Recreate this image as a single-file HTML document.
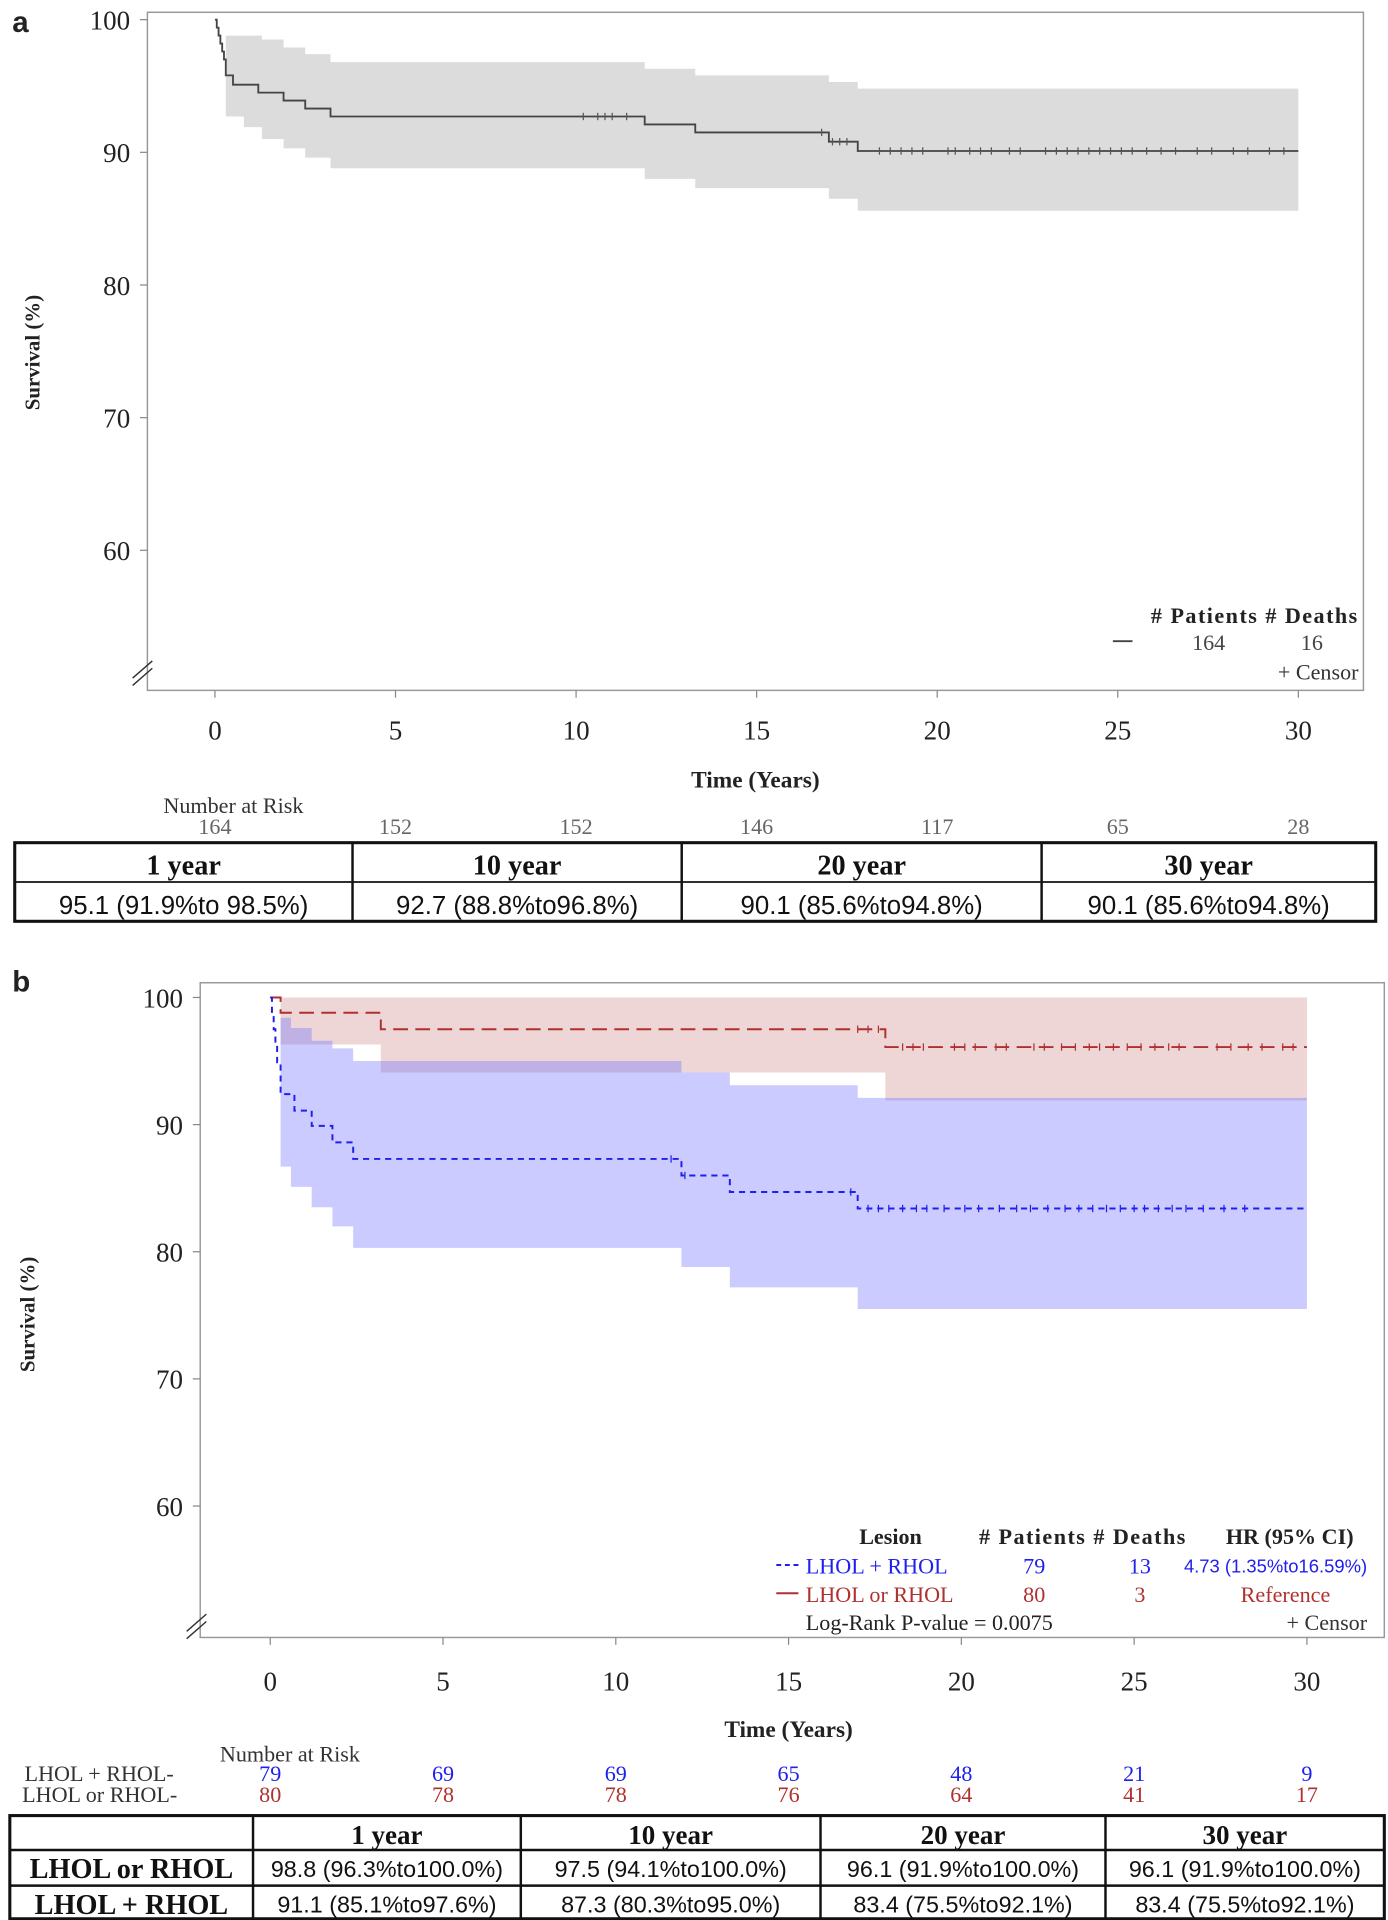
<!DOCTYPE html>
<html><head><meta charset="utf-8"><style>
html,body{margin:0;padding:0;background:#fff;}
svg{display:block;}
.serif{font-family:"Liberation Serif",serif;}
.sans{font-family:"Liberation Sans",sans-serif;}
</style></head><body>
<svg id="fig" width="1388" height="1920" viewBox="0 0 1130 1563" preserveAspectRatio="none" xmlns="http://www.w3.org/2000/svg">
<rect x="0" y="0" width="1130" height="1563" fill="#fff"/>
<g id="pa"></g>
<g id="pb"></g>
</svg>
<script>
// ---------- Panel A data ----------
const aTimes = [0, 0.05, 0.1, 0.15, 0.2, 0.25, 0.3, 0.5, 1.2, 1.9, 2.5, 3.2, 11.9, 13.3, 17.0, 17.8];
const aSurv = [100, 99.4, 98.8, 98.2, 97.6, 97.0, 95.8, 95.1, 94.5, 93.9, 93.3, 92.7, 92.1, 91.5, 90.8, 90.1];
const aCiTimes = [0, 0.3, 0.8, 1.3, 1.9, 2.5, 3.2, 11.9, 13.3, 17.0, 17.8];
const aUpper = [100, 98.8, 98.8, 98.5, 97.9, 97.4, 96.8, 96.3, 95.8, 95.3, 94.8];
const aLower = [100, 92.7, 91.9, 91.0, 90.3, 89.6, 88.8, 88.0, 87.3, 86.5, 85.6];
const aCensor = [10.2,10.6,10.8,11.0,11.4,16.8,17.1,17.3,17.5,18.4,18.7,19.0,19.3,19.6,20.3,20.5,20.9,21.2,21.5,22.0,22.3,23.0,23.3,23.6,23.9,24.2,24.5,24.8,25.1,25.4,25.8,26.2,26.6,27.2,27.6,28.2,28.6,29.2,29.6];
const aRisk = [164,152,152,146,117,65,28];
const xTicks = [0,5,10,15,20,25,30];
const yTicks = [100,90,80,70,60];
const aTableHead = ["1 year","10 year","20 year","30 year"];
const aTableVals = ["95.1 (91.9%to 98.5%)","92.7 (88.8%to96.8%)","90.1 (85.6%to94.8%)","90.1 (85.6%to94.8%)"];

// ---------- Panel B data ----------
const bBlueTimes = [0, 0.05, 0.1, 0.15, 0.2, 0.3, 0.7, 1.2, 1.8, 2.4, 11.9, 13.3, 17.0];
const bBlueSurv = [100, 98.7, 97.5, 96.2, 94.9, 92.4, 91.1, 89.9, 88.6, 87.3, 86.0, 84.7, 83.4];
const bBlueCiTimes = [0, 0.3, 0.6, 1.2, 1.8, 2.4, 3.2, 11.9, 13.3, 17.0];
const bBlueUpper = [100, 98.4, 97.6, 96.6, 96.0, 95.0, 95.0, 94.1, 93.1, 92.1];
const bBlueLower = [100, 86.7, 85.1, 83.5, 82.0, 80.3, 80.3, 78.8, 77.2, 75.5];
const bRedTimes = [0, 0.3, 3.2, 17.8];
const bRedSurv = [100, 98.8, 97.5, 96.1];
const bRedUpper = [100, 100, 100, 100];
const bRedLower = [100, 96.3, 94.1, 91.9];
const bBlueCensor = [11.6,12.0,16.8,17.3,17.6,17.9,18.3,18.7,19.0,19.5,20.1,20.5,21.1,21.6,22.0,22.5,23.0,23.4,23.8,24.2,24.6,25.0,25.3,25.7,26.1,26.5,27.0,27.6,28.2];
const bRedCensor = [17.0,17.3,17.6,18.3,18.6,18.9,19.8,20.1,20.4,21.0,21.3,22.1,22.4,22.9,23.3,23.7,24.0,24.4,24.8,25.2,25.6,26.0,26.3,27.4,27.8,28.3,28.7,29.3,29.6];
const bRiskBlue = [79,69,69,65,48,21,9];
const bRiskRed = [80,78,78,76,64,41,17];
const bTableHead = ["","1 year","10 year","20 year","30 year"];
const bRowRed = ["LHOL or RHOL","98.8 (96.3%to100.0%)","97.5 (94.1%to100.0%)","96.1 (91.9%to100.0%)","96.1 (91.9%to100.0%)"];
const bRowBlue = ["LHOL + RHOL","91.1 (85.1%to97.6%)","87.3 (80.3%to95.0%)","83.4 (75.5%to92.1%)","83.4 (75.5%to92.1%)"];

const NS = "http://www.w3.org/2000/svg";
function mk(parent, tag, attrs, txt){
  const e = document.createElementNS(NS, tag);
  for (const k in attrs) e.setAttribute(k, attrs[k]);
  if (txt !== undefined) e.textContent = txt;
  parent.appendChild(e);
  return e;
}
function stepD(ts, vs, end, X, Y){
  let d = "M" + X(ts[0]) + "," + Y(vs[0]);
  for (let i = 1; i < ts.length; i++){
    d += " H" + X(ts[i]) + " V" + Y(vs[i]);
  }
  d += " H" + X(end);
  return d;
}
function bandD(ts, up, lo, end, X, Y){
  let d = "M" + X(ts[1]) + "," + Y(up[1]);
  for (let i = 2; i < ts.length; i++) d += " H" + X(ts[i]) + " V" + Y(up[i]);
  d += " H" + X(end) + " V" + Y(lo[lo.length-1]);
  for (let i = ts.length-1; i >= 2; i--) d += " H" + X(ts[i]) + " V" + Y(lo[i-1]);
  d += " H" + X(ts[1]) + " Z";
  return d;
}
function survAt(ts, vs, t){ let v = vs[0]; for (let i=0;i<ts.length;i++) if (ts[i] <= t) v = vs[i]; return v; }

// ================= PANEL A =================
(function(){
  const g = document.getElementById("pa");
  const L=120,R=1110,T=10,B=562;
  const X = t => 175 + t*(1057-175)/30;
  const Y = v => 16 + (100-v)*10.8;
  let e;
  e = mk(g,"text",{x:10,y:26,class:"sans","font-size":24,"font-weight":"bold",fill:"#222"},"a");
   
  e = mk(g,"rect",{x:L,y:T,width:R-L,height:B-T,fill:"none",stroke:"#999","stroke-width":1.2});
   
  e = mk(g,"path",{d:bandD(aCiTimes,aUpper,aLower,30,X,Y),fill:"#dcdcdc"});
   
  e = mk(g,"path",{d:stepD(aTimes,aSurv,30,X,Y),fill:"none",stroke:"#444","stroke-width":1.5});
   
  aCensor.forEach(t=>{
    const c = mk(g,"line",{x1:X(t),x2:X(t),y1:Y(survAt(aTimes,aSurv,t))-3,y2:Y(survAt(aTimes,aSurv,t))+3,stroke:"#555","stroke-width":1});
     
  });
  yTicks.forEach(v=>{
    mk(g,"line",{x1:L-6,x2:L,y1:Y(v),y2:Y(v),stroke:"#888"});
    const t = mk(g,"text",{x:L-14,y:Y(v)+8,"text-anchor":"end",class:"serif","font-size":22,fill:"#222"},v);
     
  });
  xTicks.forEach(v=>{
    mk(g,"line",{x1:X(v),x2:X(v),y1:B,y2:B+6,stroke:"#888"});
    const t = mk(g,"text",{x:X(v),y:602,"text-anchor":"middle",class:"serif","font-size":22,fill:"#222"},v);
     
  });
  mk(g,"path",{d:"M108,552 L124,538 M108,558 L124,544",stroke:"#333","stroke-width":1.2,fill:"none"});
  e = mk(g,"text",{x:0,y:0,transform:"translate(32,287) rotate(-90)","text-anchor":"middle",class:"serif","font-size":17,"font-weight":"bold",fill:"#222"},"Survival (%)");
   
  e = mk(g,"text",{x:615,y:641,"text-anchor":"middle",class:"serif","font-size":19,"font-weight":"bold",fill:"#222"},"Time (Years)");
   
  mk(g,"text",{x:1105,y:507,"text-anchor":"end",class:"serif","font-size":18,"font-weight":"bold",fill:"#222",textLength:168},"# Patients # Deaths");
  mk(g,"line",{x1:906,x2:922,y1:522,y2:522,stroke:"#444","stroke-width":1.5});
  mk(g,"text",{x:984,y:529,"text-anchor":"middle",class:"serif","font-size":18,fill:"#444"},"164");
  mk(g,"text",{x:1068,y:529,"text-anchor":"middle",class:"serif","font-size":18,fill:"#444"},"16");
  e = mk(g,"text",{x:1106,y:553,"text-anchor":"end",class:"serif","font-size":18,fill:"#333"},"+ Censor");
   
  mk(g,"text",{x:190,y:662,"text-anchor":"middle",class:"serif","font-size":18,fill:"#333"},"Number at Risk");
  aRisk.forEach((n,i)=>{
    const t = mk(g,"text",{x:X(xTicks[i]),y:679,"text-anchor":"middle",class:"serif","font-size":18,fill:"#666"},n);
     
  });
  const cols=[12,287,555,848,1120], tT=686, tM=718, tB=750;
  const tb = mk(g,"g",{});
   
  mk(tb,"rect",{x:12,y:tT,width:1108,height:tB-tT,fill:"none",stroke:"#111","stroke-width":2.5});
  mk(tb,"line",{x1:12,x2:1120,y1:tM,y2:tM,stroke:"#111","stroke-width":1.5});
  cols.slice(1,4).forEach(c=>mk(tb,"line",{x1:c,x2:c,y1:tT,y2:tB,stroke:"#111","stroke-width":2}));
  aTableHead.forEach((h,i)=>{
    mk(tb,"text",{x:(cols[i]+cols[i+1])/2,y:tT+26,"text-anchor":"middle",class:"serif","font-size":23,"font-weight":"bold",fill:"#111"},h);
    mk(tb,"text",{x:(cols[i]+cols[i+1])/2,y:tM+26,"text-anchor":"middle",class:"sans","font-size":21,fill:"#111"},aTableVals[i]);
  });
})();

// ================= PANEL B =================
(function(){
  const g = document.getElementById("pb");
  const L=163,R=1127,T=800,B=1333;
  const X = t => 220 + t*(1064-220)/30;
  const Y = v => 812 + (100-v)*10.35;
  let e;
  e = mk(g,"text",{x:10,y:807,class:"sans","font-size":24,"font-weight":"bold",fill:"#222"},"b");
   
  e = mk(g,"rect",{x:L,y:T,width:R-L,height:B-T,fill:"none",stroke:"#999","stroke-width":1.2});
   
  e = mk(g,"path",{d:bandD(bRedTimes,bRedUpper,bRedLower,30,X,Y),fill:"rgba(200,120,120,0.3)"});
   
  e = mk(g,"path",{d:bandD(bBlueCiTimes,bBlueUpper,bBlueLower,30,X,Y),fill:"rgba(110,110,255,0.36)"});
   
  e = mk(g,"path",{d:stepD(bRedTimes,bRedSurv,30,X,Y),fill:"none",stroke:"#b03030","stroke-width":1.6,"stroke-dasharray":"12,6"});
   
  e = mk(g,"path",{d:stepD(bBlueTimes,bBlueSurv,30,X,Y),fill:"none",stroke:"#2020ee","stroke-width":1.6,"stroke-dasharray":"5,4"});
   
  bRedCensor.forEach(t=>{
    const y=Y(survAt(bRedTimes,bRedSurv,t));
    const c = mk(g,"line",{x1:X(t),x2:X(t),y1:y-3,y2:y+3,stroke:"#b03030","stroke-width":1});
     
  });
  bBlueCensor.forEach(t=>{
    const y=Y(survAt(bBlueTimes,bBlueSurv,t));
    const c = mk(g,"line",{x1:X(t),x2:X(t),y1:y-3,y2:y+3,stroke:"#2020ee","stroke-width":1});
     
  });
  yTicks.forEach(v=>{
    mk(g,"line",{x1:L-6,x2:L,y1:Y(v),y2:Y(v),stroke:"#888"});
    const t = mk(g,"text",{x:L-14,y:Y(v)+8,"text-anchor":"end",class:"serif","font-size":22,fill:"#222"},v);
     
  });
  xTicks.forEach(v=>{
    mk(g,"line",{x1:X(v),x2:X(v),y1:B,y2:B+6,stroke:"#888"});
    const t = mk(g,"text",{x:X(v),y:1376,"text-anchor":"middle",class:"serif","font-size":22,fill:"#222"},v);
     
  });
  mk(g,"path",{d:"M152,1328 L168,1314 M152,1334 L168,1320",stroke:"#333","stroke-width":1.2,fill:"none"});
  e = mk(g,"text",{x:0,y:0,transform:"translate(28,1070) rotate(-90)","text-anchor":"middle",class:"serif","font-size":17,"font-weight":"bold",fill:"#222"},"Survival (%)");
   
  e = mk(g,"text",{x:642,y:1414,"text-anchor":"middle",class:"serif","font-size":19,"font-weight":"bold",fill:"#222"},"Time (Years)");
   
  const lg = mk(g,"g",{});
   
  const f = {class:"serif","font-size":18};
  mk(lg,"text",Object.assign({x:725,y:1257,"text-anchor":"middle","font-weight":"bold",fill:"#222"},f),"Lesion");
  mk(lg,"text",Object.assign({x:881,y:1257,"text-anchor":"middle","font-weight":"bold",fill:"#222",textLength:168},f),"# Patients # Deaths");
  mk(lg,"text",Object.assign({x:1102,y:1257,"text-anchor":"end","font-weight":"bold",fill:"#222"},f),"HR (95% CI)");
  mk(lg,"line",{x1:632,x2:650,y1:1274,y2:1274,stroke:"#2020ee","stroke-width":1.6,"stroke-dasharray":"4,3"});
  mk(lg,"text",Object.assign({x:656,y:1281,fill:"#2020ee"},f),"LHOL + RHOL");
  mk(lg,"text",Object.assign({x:842,y:1281,"text-anchor":"middle",fill:"#2020ee"},f),"79");
  mk(lg,"text",Object.assign({x:928,y:1281,"text-anchor":"middle",fill:"#2020ee"},f),"13");
  mk(lg,"text",{x:1113,y:1280,"text-anchor":"end",class:"sans","font-size":15,fill:"#2020ee"},"4.73 (1.35%to16.59%)");
  mk(lg,"line",{x1:632,x2:650,y1:1297,y2:1297,stroke:"#b03030","stroke-width":1.6});
  mk(lg,"text",Object.assign({x:656,y:1304,fill:"#b03030"},f),"LHOL or RHOL");
  mk(lg,"text",Object.assign({x:842,y:1304,"text-anchor":"middle",fill:"#b03030"},f),"80");
  mk(lg,"text",Object.assign({x:928,y:1304,"text-anchor":"middle",fill:"#b03030"},f),"3");
  mk(lg,"text",Object.assign({x:1083,y:1304,"text-anchor":"end",fill:"#b03030"},f),"Reference");
  mk(lg,"text",Object.assign({x:656,y:1327,fill:"#222"},f),"Log-Rank P-value = 0.0075");
  mk(lg,"text",Object.assign({x:1113,y:1327,"text-anchor":"end",fill:"#333"},f),"+ Censor");
  mk(g,"text",{x:236,y:1434,"text-anchor":"middle",class:"serif","font-size":18,fill:"#333"},"Number at Risk");
  mk(g,"text",{x:20,y:1450,class:"serif","font-size":18,fill:"#333"},"LHOL + RHOL-");
  mk(g,"text",{x:18,y:1467,class:"serif","font-size":18,fill:"#333"},"LHOL or RHOL-");
  bRiskBlue.forEach((n,i)=>{
    const t = mk(g,"text",{x:X(xTicks[i]),y:1450,"text-anchor":"middle",class:"serif","font-size":18,fill:"#2020ee"},n);
     
  });
  bRiskRed.forEach((n,i)=>{
    const t = mk(g,"text",{x:X(xTicks[i]),y:1467,"text-anchor":"middle",class:"serif","font-size":18,fill:"#b03030"},n);
     
  });
  const cols=[8,206,424,668,900,1127], rows=[1478,1506,1535,1562];
  const tb = mk(g,"g",{});
   
  mk(tb,"rect",{x:8,y:rows[0],width:1119,height:rows[3]-rows[0],fill:"none",stroke:"#111","stroke-width":2.5});
  [rows[1],rows[2]].forEach(r=>mk(tb,"line",{x1:8,x2:1127,y1:r,y2:r,stroke:"#111","stroke-width":2}));
  cols.slice(1,5).forEach(c=>mk(tb,"line",{x1:c,x2:c,y1:rows[0],y2:rows[3],stroke:"#111","stroke-width":2}));
  bTableHead.forEach((h,i)=>{
    mk(tb,"text",{x:(cols[i]+cols[i+1])/2,y:rows[0]+23,"text-anchor":"middle",class:"serif","font-size":22,"font-weight":"bold",fill:"#111"},h);
  });
  [bRowRed,bRowBlue].forEach((row,r)=>{
    row.forEach((v,i)=>{
      if (i===0) mk(tb,"text",{x:(cols[0]+cols[1])/2,y:rows[r+1]+23,"text-anchor":"middle",class:"serif","font-size":23,"font-weight":"bold",fill:"#111"},v);
      else mk(tb,"text",{x:(cols[i]+cols[i+1])/2,y:rows[r+1]+22,"text-anchor":"middle",class:"sans","font-size":19,fill:"#111"},v);
    });
  });
})();
</script>
</body></html>
